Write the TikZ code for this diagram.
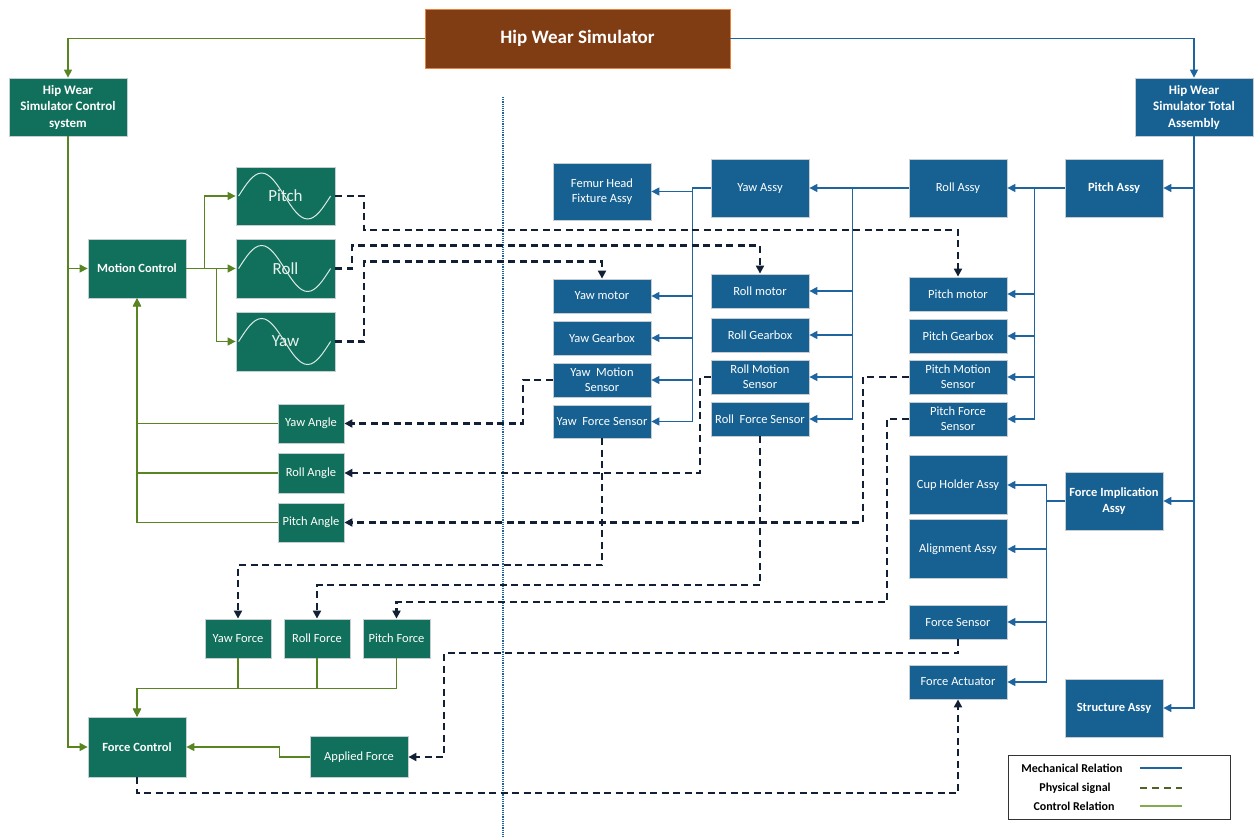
\documentclass[tikz,border=0pt]{standalone}
\usepackage{fontspec}
\setmainfont{Carlito}
\usetikzlibrary{arrows.meta}
\definecolor{gfill}{RGB}{17,112,91}
\definecolor{bfill}{RGB}{23,97,146}
\definecolor{brfill}{RGB}{128,60,18}
\definecolor{bredge}{RGB}{235,130,60}
\definecolor{edge}{RGB}{200,205,210}
\definecolor{gline}{RGB}{88,132,34}
\definecolor{bline}{RGB}{30,100,158}
\definecolor{dline}{RGB}{18,32,54}
\definecolor{legdash}{RGB}{79,98,40}
\definecolor{leggreen}{RGB}{130,170,80}
\begin{document}
\begin{tikzpicture}[x=1pt,y=-1pt,
  box/.style={draw=edge, line width=0.8pt, text=white, align=center, inner sep=1pt, font=\fontsize{12.5}{15}\selectfont},
  gbox/.style={box, fill=gfill},
  bbox/.style={box, fill=bfill},
  bf/.style={font=\fontsize{12.5}{15.5}\selectfont\bfseries},
  wh/.style 2 args={minimum width=#1, minimum height=#2},
  tip/.style={-{Triangle[length=8pt,width=8pt]}},
  garrow/.style={gline, line width=1.4pt, tip},
  barrow/.style={bline, line width=1.4pt, tip},
  darrow/.style={dline, line width=2.1pt, dash pattern=on 7pt off 4.5pt, tip},
  sine/.style={white!85!gfill, line width=1pt},
  sinetext/.style={box, draw=none, fill=none, font=\fontsize{17}{20}\selectfont, text=white!90!gfill},
  legtext/.style={font=\fontsize{12}{14}\selectfont\bfseries, inner sep=0}
]
\useasboundingbox (0,0) rectangle (1258,838);

% dotted separator
\draw[bline, line width=2.2pt, dash pattern=on 1.1pt off 1.1pt] (503,97) -- (503,838);

% top
\node[box, fill=brfill, draw=bredge, wh={305}{59}, font=\fontsize{19}{22}\selectfont\bfseries] (title) at (577.5,38.5) {Hip Wear Simulator};
\node[gbox, bf, wh={118}{58}, font=\fontsize{13}{16.5}\selectfont\bfseries] (ctrl) at (68,107) {Hip Wear\\Simulator Control\\system};
\node[bbox, bf, wh={118}{58}, font=\fontsize{13}{16.5}\selectfont\bfseries] (total) at (1194,107) {Hip Wear\\Simulator Total\\Assembly};

% control side
\node[gbox, bf, wh={98}{59}] (motion) at (137,268.5) {Motion Control};
\node[gbox, wh={99}{58}] (pitchS) at (285.5,196) {};
\node[gbox, wh={99}{59}] (rollS) at (285.5,268.5) {};
\node[gbox, wh={99}{59}] (yawS) at (285.5,341.5) {};
\foreach \s in {pitchS,rollS,yawS}{
  \draw[sine] ([xshift=3pt]\s.west) sin ++(23,-23) cos ++(23,23) sin ++(23,23) cos ++(23,-23);
}
\node[sinetext] at (pitchS) {Pitch};
\node[sinetext] at (rollS) {Roll};
\node[sinetext] at (yawS) {Yaw};

\node[gbox, wh={66}{39}] (yawA) at (311,423.5) {Yaw Angle};
\node[gbox, wh={66}{40}] (rollA) at (311,473) {Roll Angle};
\node[gbox, wh={66}{39}] (pitchA) at (311,522.5) {Pitch Angle};

\node[gbox, wh={66}{39}] (yawF) at (238,638.5) {Yaw Force};
\node[gbox, wh={66}{39}] (rollF) at (317,638.5) {Roll Force};
\node[gbox, wh={67}{39}] (pitchF) at (396.5,638.5) {Pitch Force};

\node[gbox, bf, wh={98}{60}] (forceC) at (137,747) {Force Control};
\node[gbox, wh={98}{41}] (applied) at (359,757) {Applied Force};

% mechanical side
\node[bbox, wh={98}{57}] (femur) at (602,191.5) {Femur Head\\Fixture Assy};
\node[bbox, wh={98}{58}] (yawAssy) at (760,188) {Yaw Assy};
\node[bbox, wh={98}{58}] (rollAssy) at (958,188) {Roll Assy};
\node[bbox, bf, wh={98}{58}] (pitchAssy) at (1114,188) {Pitch Assy};

\node[bbox, wh={98}{34}] (yawMotor) at (602,296) {Yaw motor};
\node[bbox, wh={98}{34}] (yawGear) at (602,338) {Yaw Gearbox};
\node[bbox, wh={98}{34}] (yawMot) at (602,380) {Yaw\ \ Motion\\Sensor};
\node[bbox, wh={98}{33}] (yawFS) at (602,421.5) {Yaw\ \ Force Sensor};

\node[bbox, wh={98}{34}] (rollMotor) at (760,291) {Roll motor};
\node[bbox, wh={98}{34}] (rollGear) at (760,335) {Roll Gearbox};
\node[bbox, wh={98}{34}] (rollMot) at (760,377) {Roll Motion\\Sensor};
\node[bbox, wh={98}{34}] (rollFS) at (760,419) {Roll\ \ Force Sensor};

\node[bbox, wh={98}{34}] (pitchMotor) at (958,294) {Pitch motor};
\node[bbox, wh={98}{34}] (pitchGear) at (958,336) {Pitch Gearbox};
\node[bbox, wh={98}{34}] (pitchMot) at (958,377) {Pitch Motion\\Sensor};
\node[bbox, wh={98}{34}] (pitchFS) at (958,419) {Pitch Force\\Sensor};

\node[bbox, wh={98}{59}] (cup) at (958,485) {Cup Holder Assy};
\node[bbox, wh={98}{59}] (alignA) at (958,549) {Alignment Assy};
\node[bbox, wh={98}{34}] (fsensor) at (958,622) {Force Sensor};
\node[bbox, wh={98}{34}] (factuator) at (958,682) {Force Actuator};
\node[bbox, bf, wh={98}{58}] (forceImp) at (1114,501) {Force Implication\\Assy};
\node[bbox, bf, wh={98}{58}] (structure) at (1114,708) {Structure Assy};

% green control relations
\draw[garrow] (title.west) -| (ctrl.north);
\draw[garrow] (ctrl.south) |- (motion.west);
\draw[garrow] (ctrl.south) |- (forceC.west);
\draw[garrow] (motion.east) -- ++(18,0) |- (pitchS.west);
\draw[garrow] (motion.east) -- (rollS.west);
\draw[garrow] ([xshift=30pt]motion.east) |- (yawS.west);
\draw[garrow] (pitchA.west) -| (motion.south);
\draw[garrow] (rollA.west) -| (motion.south);
\draw[garrow] (yawA.west) -| (motion.south);
\draw[garrow] (pitchF.south) -- ++(0,30) -| (forceC.north);
\draw[garrow] (rollF.south) -- ++(0,30) -| (forceC.north);
\draw[garrow] (yawF.south) -- ++(0,30) -| (forceC.north);
\draw[garrow] (applied.west) -- ++(-30,0) |- (forceC.east);

% blue mechanical relations
\draw[barrow] (title.east) -| (total.north);
\draw[barrow] (total.south) |- (pitchAssy.east);
\draw[barrow] (total.south) |- (forceImp.east);
\draw[barrow] (total.south) |- (structure.east);
\draw[barrow] (pitchAssy.west) -- (rollAssy.east);
\draw[barrow] (rollAssy.west) -- (yawAssy.east);
\draw[barrow] (yawAssy.west) -- ++(-18,0) |- (femur.east);
\foreach \t in {yawMotor,yawGear,yawMot,yawFS}
  \draw[barrow] (yawAssy.west) -- ++(-18,0) |- (\t.east);
\foreach \t in {rollMotor,rollGear,rollMot,rollFS}
  \draw[barrow] (rollAssy.west) -- ++(-56,0) |- (\t.east);
\foreach \t in {pitchMotor,pitchGear,pitchMot,pitchFS}
  \draw[barrow] (pitchAssy.west) -- ++(-30,0) |- (\t.east);
\foreach \t in {cup,alignA,fsensor,factuator}
  \draw[barrow] (forceImp.west) -- ++(-18,0) |- (\t.east);

% dashed physical signals
\draw[darrow] (pitchS.east) -- ++(29,0) -- ++(0,34) -| (pitchMotor.north);
\draw[darrow] (rollS.east) -- ++(17,0) -- ++(0,-23) -| (rollMotor.north);
\draw[darrow] (yawS.east) -- ++(29,0) -- ++(0,-80) -| (yawMotor.north);
\draw[darrow] (yawMot.west) -- ++(-30,0) |- (yawA.east);
\draw[darrow] (rollMot.west) -- ++(-11,0) |- (rollA.east);
\draw[darrow] (pitchMot.west) -- ++(-46,0) |- (pitchA.east);
\draw[darrow] (yawFS.south) -- ++(0,127) -| (yawF.north);
\draw[darrow] (rollFS.south) -- ++(0,149) -| (rollF.north);
\draw[darrow] (pitchFS.west) -- ++(-22,0) -- ++(0,183) -| (pitchF.north);
\draw[darrow] (fsensor.south) -- ++(0,14) -- ++(-514,0) |- (applied.east);
\draw[darrow] (forceC.south) -- ++(0,16) -| (factuator.south);

% legend
\node[draw=black!80, line width=1pt, minimum width=222, minimum height=64, inner sep=0] (legend) at (1119,787) {};
\node[legtext] (lm) at (1072,768) {Mechanical Relation};
\node[legtext] (lp) at (1075,788) {Physical signal};
\node[legtext] (lc) at (1074,806) {Control Relation};
\coordinate (lm1) at (1140,768); \coordinate (lm2) at (1182,768);
\coordinate (lp1) at (1140,788); \coordinate (lp2) at (1182,788);
\coordinate (lc1) at (1140,806); \coordinate (lc2) at (1182,806);
\draw[bline, line width=1.5pt] (lm1) -- (lm2);
\draw[legdash, line width=2.2pt, dash pattern=on 7pt off 5pt] (lp1) -- (lp2);
\draw[leggreen, line width=2.8pt] (lc1) -- (lc2);
\end{tikzpicture}
\end{document}
